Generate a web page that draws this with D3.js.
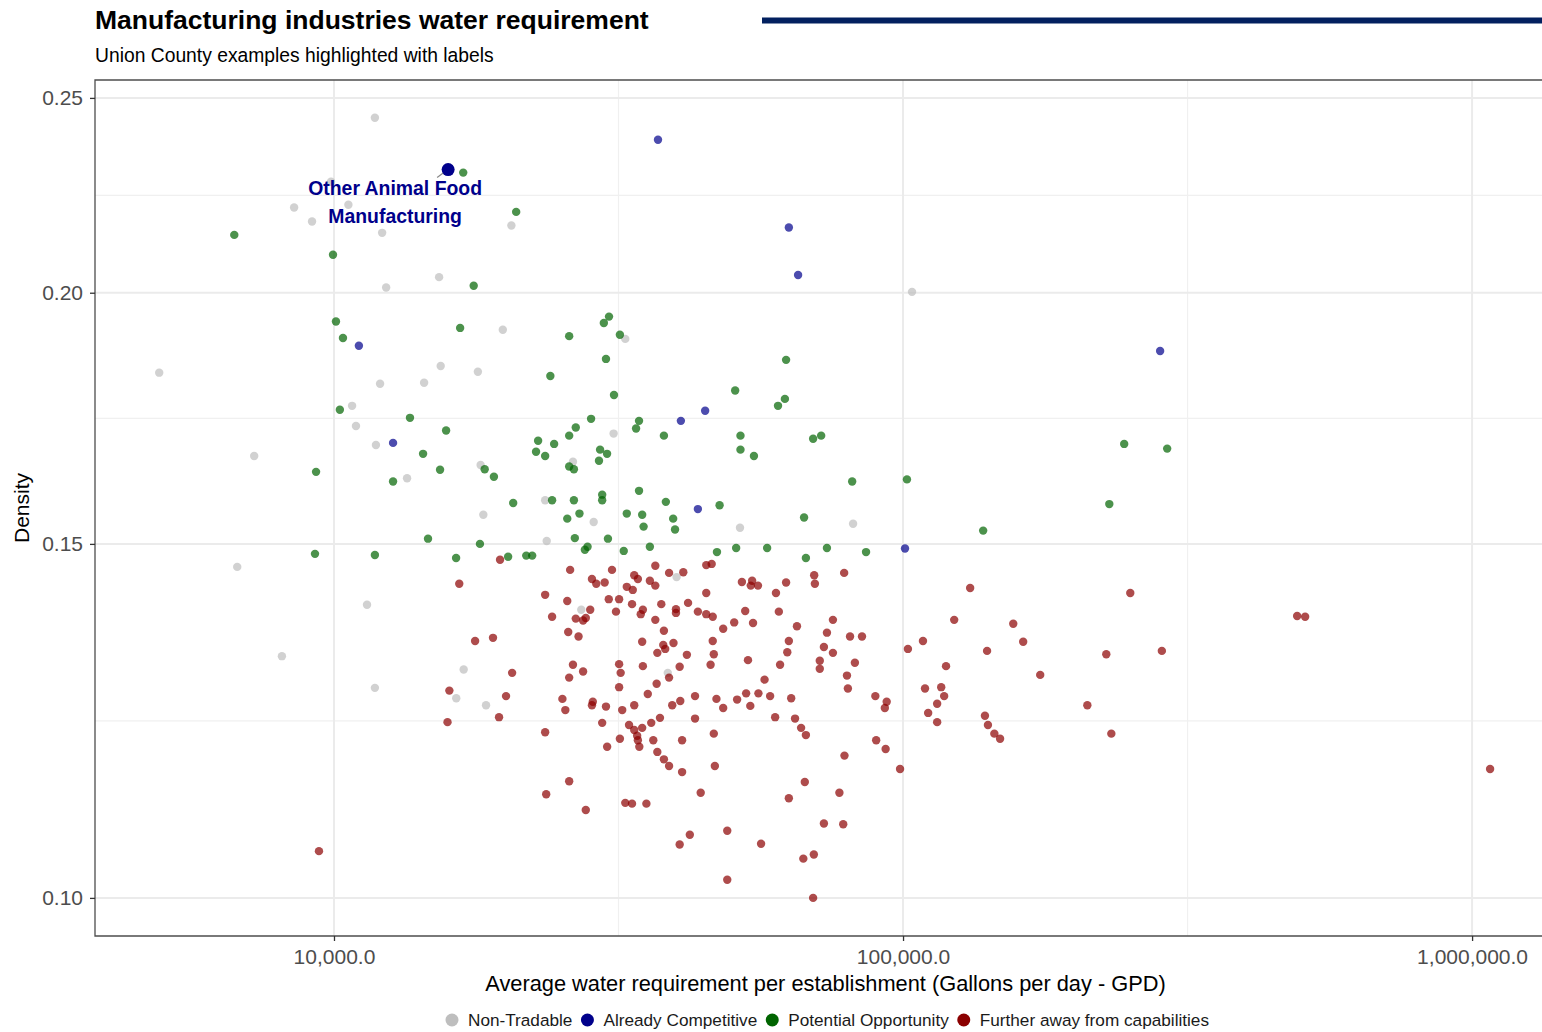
<!DOCTYPE html>
<head>
    <meta charset="utf-8">
    <style>
        body { margin: 0; background: #fff; }
        text { font-family: "Liberation Sans", Arial, sans-serif; }
    </style>
    <script src="https://d3js.org/d3.v7.min.js"></script>
</head>
<body>
<div id="block"></div>
<script>

    // ---- data (GPD per establishment, density) ----
    var nonTradable = [
        [11800,0.2444],[9880,0.2271],[8510,0.2205],[9150,0.2170],[10600,0.2212],[12150,0.2142],
        [15300,0.2036],[12350,0.2012],[20500,0.2160],[19800,0.1917],[4930,0.1825],[12050,0.1802],
        [14400,0.1804],[10760,0.1757],[10930,0.1717],[11850,0.1680],[7240,0.1659],[6760,0.1461],
        [11430,0.1399],[8100,0.1319],[11800,0.1272],[15400,0.1839],[17900,0.1827],[32500,0.1897],
        [31000,0.1702],[26300,0.1648],[18100,0.1642],[18300,0.1551],[23500,0.1577],[28600,0.1538],
        [23650,0.1505],[51700,0.1528],[81700,0.1535],[103700,0.2002],[16900,0.1299],[16400,0.1257],
        [18500,0.1247],[27200,0.1391],[40000,0.1444],[38600,0.1294],[13440,0.1617]
    ];

    var alreadyCompetitive = [
        [37100,0.2383],[63000,0.2155],[65400,0.2041],[283000,0.1871],[11060,0.1882],
        [12700,0.1684],[44900,0.1747],[40700,0.1727],[43600,0.1561],[100800,0.1492]
    ];

    var potentialOpportunity = [
        [16870,0.2295],[20900,0.2194],[6680,0.2137],[9960,0.2089],[17600,0.2016],[10080,0.1935],
        [10370,0.1899],[16660,0.1921],[10240,0.1749],[9300,0.1629],[12700,0.1611],[9260,0.1483],
        [11800,0.1481],[13600,0.1733],[15740,0.1708],[14340,0.1663],[15360,0.1633],[14630,0.1509],
        [16390,0.1476],[18050,0.1500],[25900,0.1903],[30430,0.1946],[29800,0.1932],[31800,0.1906],
        [30060,0.1854],[24000,0.1818],[31050,0.1779],[50700,0.1788],[28300,0.1731],[34360,0.1727],
        [33950,0.1712],[26600,0.1714],[25900,0.1698],[38000,0.1698],[22840,0.1688],[24370,0.1682],
        [22650,0.1667],[23500,0.1659],[29350,0.1671],[30190,0.1663],[29220,0.1650],[18400,0.1634],
        [19100,0.1620],[25900,0.1639],[26400,0.1634],[51800,0.1698],[51800,0.1671],[20650,0.1572],
        [24170,0.1577],[26400,0.1577],[29600,0.1587],[29600,0.1577],[34360,0.1594],[38300,0.1574],
        [47600,0.1568],[32700,0.1553],[34800,0.1551],[25700,0.1544],[27000,0.1553],[35000,0.1530],
        [39450,0.1544],[39750,0.1525],[26500,0.1510],[30300,0.1509],[27600,0.1490],[27900,0.1495],
        [32300,0.1488],[35900,0.1495],[47100,0.1486],[50900,0.1493],[20230,0.1478],[21770,0.1480],
        [22300,0.1480],[62300,0.1852],[62000,0.1771],[60300,0.1757],[54700,0.1659],[69500,0.1692],
        [71800,0.1698],[81400,0.1611],[101600,0.1615],[67000,0.1546],[138300,0.1523],[57700,0.1493],
        [73500,0.1493],[86100,0.1486],[67500,0.1476],[244700,0.1682],[291200,0.1673],[230400,0.1570]
    ];

    var furtherAway = [
        [19580,0.1473],[26000,0.1456],[30800,0.1456],[16600,0.1433],[28400,0.1441],[28900,0.1433],
        [29900,0.1435],[33700,0.1447],[34200,0.1441],[36700,0.1463],[38800,0.1451],[41100,0.1452],
        [35900,0.1438],[36700,0.1430],[32700,0.1428],[33500,0.1423],[45100,0.1464],[46100,0.1466],
        [23500,0.1415],[25700,0.1405],[30400,0.1408],[31700,0.1408],[33400,0.1400],[37600,0.1400],
        [41900,0.1402],[45100,0.1418],[28200,0.1391],[31300,0.1388],[34900,0.1391],[34600,0.1384],
        [39900,0.1392],[39900,0.1386],[43600,0.1388],[45100,0.1384],[46300,0.1380],[24170,0.1380],
        [26600,0.1377],[27400,0.1374],[27700,0.1378],[36700,0.1375],[50500,0.1371],[38000,0.1358],
        [48300,0.1361],[25800,0.1356],[26900,0.1349],[17700,0.1342],[19030,0.1347],[34800,0.1341],
        [37900,0.1336],[38200,0.1330],[39500,0.1339],[37000,0.1324],[46300,0.1342],[46500,0.1322],
        [41700,0.1321],[31700,0.1307],[31900,0.1294],[26300,0.1306],[27400,0.1296],[34900,0.1304],
        [40500,0.1303],[45900,0.1306],[20560,0.1294],[25900,0.1287],[38800,0.1287],[36900,0.1278],
        [31700,0.1273],[15950,0.1268],[20060,0.1260],[35600,0.1263],[43100,0.1260],[47000,0.1256],
        [51100,0.1255],[25200,0.1256],[25500,0.1240],[28500,0.1252],[28400,0.1247],[30060,0.1245],
        [32100,0.1240],[33700,0.1247],[39300,0.1247],[40600,0.1253],[48300,0.1243],[15830,0.1223],
        [19500,0.1230],[29600,0.1222],[33000,0.1219],[33700,0.1212],[34800,0.1215],[36100,0.1222],
        [37400,0.1229],[43100,0.1228],[23500,0.1209],[31800,0.1200],[34100,0.1204],[34200,0.1198],
        [36400,0.1198],[40900,0.1198],[46500,0.1207],[30200,0.1189],[34400,0.1189],[37000,0.1182],
        [38000,0.1172],[38800,0.1163],[46700,0.1163],[40900,0.1155],[78800,0.1451],[52100,0.1436],
        [54300,0.1438],[54000,0.1430],[55600,0.1430],[62300,0.1435],[69800,0.1447],[70000,0.1433],
        [59800,0.1418],[131200,0.1426],[52800,0.1389],[60500,0.1388],[54500,0.1370],[65100,0.1365],
        [75300,0.1375],[123000,0.1375],[156200,0.1369],[63000,0.1342],[73500,0.1355],[80700,0.1349],
        [84700,0.1349],[162600,0.1341],[62600,0.1325],[72600,0.1333],[75300,0.1324],[102000,0.1330],
        [108400,0.1342],[140500,0.1327],[53400,0.1313],[60800,0.1306],[71400,0.1312],[71400,0.1300],
        [82300,0.1309],[119000,0.1304],[174200,0.1291],[57100,0.1284],[79700,0.1290],[80000,0.1271],
        [109300,0.1271],[116700,0.1273],[118100,0.1260],[53000,0.1264],[55700,0.1264],[58400,0.1260],
        [53900,0.1246],[63600,0.1257],[89400,0.1260],[93600,0.1252],[92900,0.1243],[114800,0.1249],
        [110700,0.1236],[59600,0.1230],[64600,0.1228],[66200,0.1215],[67500,0.1205],[114800,0.1223],
        [139300,0.1232],[141000,0.1219],[144700,0.1207],[148100,0.1200],[89700,0.1198],[93200,0.1186],
        [78900,0.1177],[98800,0.1159],[25900,0.1143],[23600,0.1126],[27700,0.1106],[32500,0.1115],
        [33400,0.1114],[35400,0.1114],[44100,0.1128],[63000,0.1121],[67200,0.1142],[77300,0.1128],
        [72600,0.1089],[78500,0.1088],[49100,0.1080],[42200,0.1075],[40500,0.1063],[56300,0.1064],
        [66800,0.1046],[69700,0.1051],[49100,0.1021],[69500,0.1000],[9410,0.1055],[210800,0.1247],
        [227600,0.1322],[232300,0.1207],[250800,0.1418],[285000,0.1327],[492700,0.1381],[508900,0.1380],
        [1075600,0.1159]
    ];

    // Union County example, drawn larger and labelled
    var labelled = [[15870, 0.2303, "Other Animal Food", "Manufacturing"]];

    var categories = ["Non-Tradable", "Already Competitive", "Potential Opportunity", "Further away from capabilities"];
    var colors = ["#bebebe", "#00008b", "#006400", "#8b0000"];
    var seriesData = [nonTradable, alreadyCompetitive, potentialOpportunity, furtherAway];

    var xMajor = [1e4, 1e5, 1e6];
    var xMinor = [Math.pow(10, 4.5), Math.pow(10, 5.5)];
    var yMajor = [0.10, 0.15, 0.20, 0.25];
    var yMinor = [Math.sqrt(0.10 * 0.15), Math.sqrt(0.15 * 0.20), Math.sqrt(0.20 * 0.25)];

    var w = 1542, h = 1032;
    var pLeft = 95, pRight = 1542, pTop = 80, pBottom = 936;

    var svg = d3.select("#block").append("svg")
        .attr("width", w)
        .attr("height", h);

    var x = d3.scaleLog()
        .domain([3802, 1.327e6])
        .range([pLeft, pRight]);

    var y = d3.scaleLog()
        .domain([0.09573, 0.25518])
        .range([pBottom, pTop]);

    // titles
    svg.append("text")
        .attr("x", pLeft).attr("y", 29)
        .style("font-size", "26.5px").style("font-weight", "bold")
        .text("Manufacturing industries water requirement");

    svg.append("text")
        .attr("x", pLeft).attr("y", 62)
        .style("font-size", "19.3px")
        .text("Union County examples highlighted with labels");

    svg.append("rect")
        .attr("x", 762).attr("y", 17.5)
        .attr("width", w - 762).attr("height", 6)
        .attr("fill", "#02205f");

    // grid
    var grid = svg.append("g");
    grid.selectAll(".ymin").data(yMinor).enter().append("line")
        .attr("x1", pLeft).attr("x2", pRight)
        .attr("y1", function(d) { return y(d); }).attr("y2", function(d) { return y(d); })
        .attr("stroke", "#f0f0f0").attr("stroke-width", 1.2);
    grid.selectAll(".xmin").data(xMinor).enter().append("line")
        .attr("y1", pTop).attr("y2", pBottom)
        .attr("x1", function(d) { return x(d); }).attr("x2", function(d) { return x(d); })
        .attr("stroke", "#f0f0f0").attr("stroke-width", 1.2);
    grid.selectAll(".ymaj").data(yMajor).enter().append("line")
        .attr("x1", pLeft).attr("x2", pRight)
        .attr("y1", function(d) { return y(d); }).attr("y2", function(d) { return y(d); })
        .attr("stroke", "#ebebeb").attr("stroke-width", 2);
    grid.selectAll(".xmaj").data(xMajor).enter().append("line")
        .attr("y1", pTop).attr("y2", pBottom)
        .attr("x1", function(d) { return x(d); }).attr("x2", function(d) { return x(d); })
        .attr("stroke", "#ebebeb").attr("stroke-width", 2);

    // points
    seriesData.forEach(function(series, i) {
        svg.append("g").selectAll("circle")
            .data(series)
            .enter()
            .append("circle")
            .attr("cx", function(d) { return x(d[0]); })
            .attr("cy", function(d) { return y(d[1]); })
            .attr("r", 4.2)
            .attr("fill", colors[i])
            .attr("fill-opacity", 0.7);
    });

    // highlighted point + label
    var hl = svg.append("g");
    hl.selectAll("line").data(labelled).enter().append("line")
        .attr("x1", function(d) { return x(d[0]) - 5; })
        .attr("y1", function(d) { return y(d[1]) + 3.5; })
        .attr("x2", function(d) { return x(d[0]) - 11; })
        .attr("y2", function(d) { return y(d[1]) + 8; })
        .attr("stroke", "#888").attr("stroke-width", 1.2);
    hl.selectAll("circle").data(labelled).enter().append("circle")
        .attr("cx", function(d) { return x(d[0]); })
        .attr("cy", function(d) { return y(d[1]); })
        .attr("r", 6.5)
        .attr("fill", colors[1]);
    var lab = hl.selectAll("text").data(labelled).enter().append("text")
        .attr("text-anchor", "middle")
        .style("font-size", "19.4px").style("font-weight", "bold")
        .attr("fill", colors[1]);
    lab.append("tspan")
        .attr("x", function(d) { return x(d[0]) - 53; })
        .attr("y", function(d) { return y(d[1]) + 25; })
        .text(function(d) { return d[2]; });
    lab.append("tspan")
        .attr("x", function(d) { return x(d[0]) - 53; })
        .attr("y", function(d) { return y(d[1]) + 53; })
        .text(function(d) { return d[3]; });

    // panel border (top, left, bottom)
    svg.append("path")
        .attr("d", "M" + pRight + "," + pTop + "H" + pLeft + "V" + pBottom + "H" + pRight)
        .attr("fill", "none")
        .attr("stroke", "#4d4d4d")
        .attr("stroke-width", 1.3);

    // axes
    var yAxis = svg.append("g")
        .attr("transform", "translate(" + pLeft + ",0)")
        .call(d3.axisLeft(y).tickValues(yMajor).tickFormat(d3.format(".2f")).tickSize(5).tickPadding(7));
    var xAxis = svg.append("g")
        .attr("transform", "translate(0," + pBottom + ")")
        .call(d3.axisBottom(x).tickValues(xMajor).tickFormat(d3.format(",.1f")).tickSize(5).tickPadding(8));

    [xAxis, yAxis].forEach(function(a) {
        a.select(".domain").remove();
        a.selectAll(".tick line").attr("stroke", "#333").attr("stroke-width", 1.3);
        a.selectAll(".tick text")
            .attr("fill", "#4d4d4d")
            .style("font-size", "21px")
            .style("font-family", "'Liberation Sans', Arial, sans-serif");
    });

    svg.append("text")
        .attr("x", (pLeft + pRight) / 2 + 7).attr("y", 991)
        .attr("text-anchor", "middle")
        .style("font-size", "21.8px")
        .text("Average water requirement per establishment (Gallons per day - GPD)");

    svg.append("text")
        .attr("transform", "translate(29," + ((pTop + pBottom) / 2) + ") rotate(-90)")
        .attr("text-anchor", "middle")
        .style("font-size", "21px")
        .text("Density");

    // legend
    var legend = svg.append("g");
    var cursor = 0;
    categories.forEach(function(c, i) {
        var g = legend.append("g").attr("transform", "translate(" + cursor + ",0)");
        g.append("circle").attr("cx", 7).attr("cy", 0).attr("r", 6.5).attr("fill", colors[i]);
        var t = g.append("text").attr("x", 23).attr("y", 6)
            .style("font-size", "17.2px").attr("fill", "#1a1a1a").text(c);
        cursor += 23 + t.node().getComputedTextLength() + 8;
    });
    legend.attr("transform", "translate(" + (831 - cursor / 2) + ",1020)");

</script>
</body>
